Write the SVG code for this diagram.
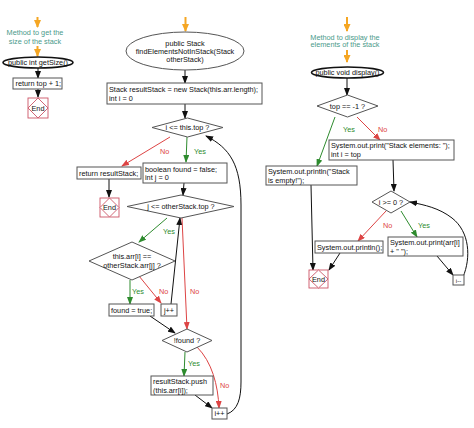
<svg xmlns="http://www.w3.org/2000/svg" width="474" height="428" viewBox="0 0 474 428">
<style>
text{font-family:"Liberation Sans",Arial,sans-serif;font-size:7.3px;fill:#111}
.c{text-anchor:middle}
.note{fill:#4a9a8a;font-size:7.3px}
.box{fill:#fff;stroke:#555;stroke-width:1}
.dia{fill:#fff;stroke:#555;stroke-width:1}
.ell{fill:#fff;stroke:#111;stroke-width:1.6}
.ell2{fill:#fff;stroke:#555;stroke-width:1}
.endsq{fill:#fff;stroke:#cc5566;stroke-width:0.9}
.k{fill:none;stroke:#111;stroke-width:1;marker-end:url(#ak)}
.r{fill:none;stroke:#d44;stroke-width:1;marker-end:url(#ar)}
.g{fill:none;stroke:#2e8b2e;stroke-width:1;marker-end:url(#ag)}
.o{fill:none;stroke:#f5a623;stroke-width:2;marker-end:url(#ao)}
.lr{fill:#d44}
.lg{fill:#2e8b2e}
</style>
<defs>
<marker id="ak" markerUnits="userSpaceOnUse" markerWidth="8" markerHeight="6" refX="7" refY="3" orient="auto"><path d="M0,0 L8,3 L0,6 z" fill="#111"/></marker>
<marker id="ar" markerUnits="userSpaceOnUse" markerWidth="8" markerHeight="6" refX="7" refY="3" orient="auto"><path d="M0,0 L8,3 L0,6 z" fill="#d44"/></marker>
<marker id="ag" markerUnits="userSpaceOnUse" markerWidth="8" markerHeight="6" refX="7" refY="3" orient="auto"><path d="M0,0 L8,3 L0,6 z" fill="#2e8b2e"/></marker>
<marker id="ao" markerUnits="userSpaceOnUse" markerWidth="8" markerHeight="7" refX="7" refY="3.5" orient="auto"><path d="M0,0 L8,3.5 L0,7 z" fill="#f5a623"/></marker>
</defs>

<g id="connectors">
<!-- left -->
<path class="o" d="M37.5,17 L37.5,27"/>
<path class="o" d="M37.5,46 L37.5,56"/>
<path class="k" d="M38,68 L38,78"/>
<path class="k" d="M38,89 L38,97"/>
<!-- middle -->
<path class="o" d="M185.5,17 L185.5,31"/>
<path class="k" d="M185,70 L185,83"/>
<path class="k" d="M185,104 L185,118"/>
<path class="r" d="M170,137 L122,166"/>
<path class="g" d="M187,137 L186,162"/>
<path class="k" d="M109,179 L109,197"/>
<path class="k" d="M184,183 L183,195"/>
<path class="g" d="M167,218 L139,242"/>
<path class="g" d="M130,280 L130,304"/>
<path class="r" d="M139,276 L161,303"/>
<path class="k" d="M171,304 L180,218"/>
<path class="r" d="M182,218 L187,329"/>
<path class="k" d="M150,316 L175,333"/>
<path class="g" d="M185,352 L184,376"/>
<path class="r" d="M197,347 C212,362 218,385 219,408"/>
<path class="k" d="M195,395 L212,408"/>
<path class="k" d="M227,414 C238,410 241,398 241,382 L241,205 C241,165 230,148 206,136"/>
<!-- right -->
<path class="o" d="M347,17 L347,31"/>
<path class="o" d="M347,50 L347,62"/>
<path class="k" d="M347,78 L347,95"/>
<path class="g" d="M335,117 L317,166"/>
<path class="r" d="M357,117 L380,140"/>
<path class="k" d="M393,160 L394,191"/>
<path class="r" d="M386,211 L358,241"/>
<path class="g" d="M401,211 L417,237"/>
<path class="k" d="M437,256 L453,275"/>
<path class="k" d="M463,277 C471,258 470,232 452,218 C439,208 425,205 410,202"/>
<path class="k" d="M311,185 L313,270"/>
<path class="k" d="M340,253 L329,270"/>
</g>

<g id="labels">
<text class="lr" x="160" y="154">No</text>
<text class="lg" x="194" y="154">Yes</text>
<text class="lg" x="163" y="234">Yes</text>
<text class="lg" x="132" y="294">Yes</text>
<text class="lr" x="159" y="294">No</text>
<text class="lr" x="190" y="294">No</text>
<text class="lg" x="188" y="366">Yes</text>
<text class="lr" x="220" y="388">No</text>
<text class="lg" x="343" y="132">Yes</text>
<text class="lr" x="378" y="132">No</text>
<text class="lr" x="383" y="228">No</text>
<text class="lg" x="418" y="228">Yes</text>
</g>

<g id="note-getsize">
<text class="note c" x="35" y="34.5">Method to get the</text>
<text class="note c" x="35" y="43.5">size of the stack</text>
</g>
<g id="getsize">
<ellipse class="ell" cx="38" cy="62.5" rx="35" ry="5.5"/>
<text class="c" x="38" y="65">public int getSize()</text>
</g>
<g id="return-top">
<rect class="box" x="13" y="78" width="49" height="11"/>
<text x="15.5" y="86">return top + 1;</text>
</g>
<g id="end1">
<rect class="endsq" x="28" y="98" width="20" height="20"/>
<path class="endsq" d="M38,98 L48,108 L38,118 L28,108 z"/>
<text class="c" x="38" y="110.5">End</text>
</g>

<g id="find">
<ellipse class="ell2" cx="185" cy="51" rx="59" ry="19"/>
<text class="c" x="185" y="45.5">public Stack</text>
<text class="c" x="185" y="53.5">findElementsNotInStack(Stack</text>
<text class="c" x="185" y="61.5">otherStack)</text>
</g>
<g id="init">
<rect class="box" x="107" y="83" width="155" height="21"/>
<text x="109" y="91.5">Stack resultStack = new Stack(this.arr.length);</text>
<text x="109" y="100.5">int i = 0</text>
</g>
<g id="cond-i">
<path class="dia" d="M152,127.5 L187.5,118 L223,127.5 L187.5,137 z"/>
<text class="c" x="187.5" y="130">i &lt;= this.top ?</text>
</g>
<g id="return-result">
<rect class="box" x="77" y="167" width="64" height="12"/>
<text x="79" y="175.5">return resultStack;</text>
</g>
<g id="end2">
<rect class="endsq" x="100" y="198" width="19" height="19"/>
<path class="endsq" d="M109.5,198 L119,207.5 L109.5,217 L100,207.5 z"/>
<text class="c" x="109.5" y="210">End</text>
</g>
<g id="init-found">
<rect class="box" x="143" y="163" width="84" height="20"/>
<text x="145" y="171.5">boolean found = false;</text>
<text x="145" y="180">int j = 0</text>
</g>
<g id="cond-j">
<path class="dia" d="M127,206.5 L181,195 L234,206.5 L181,218 z"/>
<text class="c" x="181" y="209">j &lt;= otherStack.top ?</text>
</g>
<g id="cond-eq">
<path class="dia" d="M89,261 L132,242 L175,261 L132,280 z"/>
<text class="c" x="132" y="259">this.arr[i] ==</text>
<text class="c" x="132" y="267.5">otherStack.arr[j] ?</text>
</g>
<g id="found-true">
<rect class="box" x="109" y="304" width="45" height="12"/>
<text x="111" y="312.5">found = true;</text>
</g>
<g id="jpp">
<rect class="box" x="161" y="304" width="16" height="12"/>
<text class="c" x="169" y="312.5">j++</text>
</g>
<g id="cond-found">
<path class="dia" d="M162,340.5 L187,329 L212,340.5 L187,352 z"/>
<text class="c" x="187" y="343">!found ?</text>
</g>
<g id="push">
<rect class="box" x="151" y="376" width="62" height="19"/>
<text x="153" y="384">resultStack.push</text>
<text x="153" y="392.5">(this.arr[i]);</text>
</g>
<g id="ipp">
<rect class="box" x="212" y="408" width="15" height="11"/>
<text class="c" x="219.5" y="416">i++</text>
</g>

<g id="note-display">
<text class="note c" x="345" y="39.5">Method to display the</text>
<text class="note c" x="345" y="47">elements of the stack</text>
</g>
<g id="display">
<ellipse class="ell" cx="347.5" cy="72.5" rx="36" ry="5.5"/>
<text class="c" x="347.5" y="75">public void display()</text>
</g>
<g id="cond-top">
<path class="dia" d="M317,106 L347.5,95 L378,106 L347.5,117 z"/>
<text class="c" x="347.5" y="108.5">top == -1 ?</text>
</g>
<g id="print-elements">
<rect class="box" x="329" y="140" width="125" height="20"/>
<text x="331" y="148">System.out.print("Stack elements: ");</text>
<text x="331" y="156.5">int i = top</text>
</g>
<g id="print-empty">
<rect class="box" x="266" y="166" width="91" height="19"/>
<text x="268" y="174">System.out.println("Stack</text>
<text x="268" y="182.5">is empty!");</text>
</g>
<g id="cond-i0">
<path class="dia" d="M372,202 L391,191 L410,202 L391,213 z"/>
<text class="c" x="391" y="204.5">i &gt;= 0 ?</text>
</g>
<g id="println">
<rect class="box" x="315" y="241" width="68" height="12"/>
<text x="317" y="249.5">System.out.println();</text>
</g>
<g id="print-arr">
<rect class="box" x="388" y="237" width="75" height="19"/>
<text x="390" y="245">System.out.print(arr[i]</text>
<text x="390" y="253.5">+ " ");</text>
</g>
<g id="imm">
<rect class="box" x="453" y="275" width="11" height="10"/>
<text class="c" x="458.5" y="282.5" style="font-size:6px">i--</text>
</g>
<g id="end3">
<rect class="endsq" x="309" y="270" width="19" height="18"/>
<path class="endsq" d="M318.5,270 L328,279 L318.5,288 L309,279 z"/>
<text class="c" x="318.5" y="281.5">End</text>
</g>
</svg>
